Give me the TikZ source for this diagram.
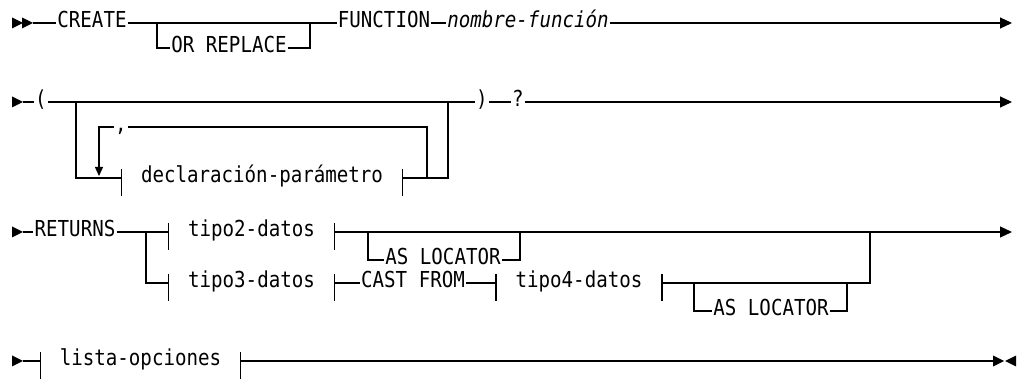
\documentclass[tikz,border=0pt]{standalone}
\usepackage{fontspec}
\newfontfamily\diagfont[FakeStretch=0.87]{DejaVu Sans Mono}
\usetikzlibrary{arrows.meta}

\begin{document}
\begin{tikzpicture}[
    x=1pt, y=-1pt,
    every node/.append style={font=\diagfont\fontsize{22}{25}\selectfont},
    rail/.style={line width=1.2pt},
    kw/.style={inner xsep=1pt, inner ysep=0pt, text height=16pt, text depth=6pt},
    nonterm/.style={kw, inner xsep=19.5pt},
    var/.style={kw, font=\diagfont\itshape\fontsize{22}{25}\selectfont},
    endarrow/.style={rail, -{Triangle[length=12pt,width=11pt]}},
    looparrow/.style={rail, -{Triangle[length=9pt,width=8pt]}},
    pics/headtri/.style={code={\fill (0,-5.5) -- (11,0) -- (0,5.5) -- cycle;}},
    pics/tailtri/.style={code={\fill (0,-5.5) -- (-11,0) -- (0,5.5) -- cycle;}},
]
\useasboundingbox (0,0) rectangle (1018,379);

% CREATE [OR REPLACE] FUNCTION
\pic at (12,23) {headtri};
\pic at (22,23) {headtri};
\coordinate (r1s) at (33,23);
\node[kw] (create) at (92,23) {CREATE};
\node[kw] (orrep) at (229,48) {OR REPLACE};
\node[kw] (function) at (384,23) {FUNCTION};
\node[var] (fname) at (528,23) {nombre-función};
\coordinate (b1) at (157,23);
\coordinate (j1) at (310,23);
\coordinate (r1e) at (1012,23);
\draw[rail] (r1s) -- (create) -- (function) -- (fname);
\draw[rail] (b1) |- (orrep) -| (j1);
\draw[endarrow] (fname) -- (r1e);

% lista de parametros
\pic at (12,102) {headtri};
\coordinate (r2s) at (23,102);
\node[kw] (lpar) at (41,102) {(};
\node[kw] (rpar) at (482,102) {)};
\node[kw] (qmark) at (518,102) {?};
\node[nonterm] (decl) at (262,178) {declaración-parámetro};
\node[kw] (comma) at (121,127) {,};
\coordinate (b2) at (76,102);
\coordinate (j2) at (448,102);
\coordinate (lpr) at (427,178);
\coordinate (lprt) at (427,127);
\coordinate (lplt) at (99,127);
\coordinate (lpld) at (99,176);
\coordinate (r2e) at (1012,102);
\draw[rail] (r2s) -- (lpar) -- (rpar) -- (qmark);
\draw[rail] (b2) |- (decl) -| (j2);
\draw[rail] (lpr) -- (lprt) -- (comma);
\draw[looparrow] (comma) -- (lplt) -- (lpld);
\draw[endarrow] (qmark) -- (r2e);

% RETURNS
\pic at (12,232) {headtri};
\coordinate (r3s) at (23,232);
\node[kw] (returns) at (75,232) {RETURNS};
\node[nonterm] (tipo2) at (251.5,232) {tipo2-datos};
\node[nonterm] (tipo3) at (251.5,283) {tipo3-datos};
\node[kw] (cast) at (413,283) {CAST FROM};
\node[nonterm] (tipo4) at (579,283) {tipo4-datos};
\node[kw] (asloc1) at (443,260) {AS LOCATOR};
\node[kw] (asloc2) at (771,311) {AS LOCATOR};
\coordinate (b3) at (146,232);
\coordinate (b4) at (368,232);
\coordinate (j4) at (520,232);
\coordinate (b5) at (694,283);
\coordinate (j5) at (847,283);
\coordinate (j6) at (870,232);
\coordinate (r3e) at (1012,232);
\draw[rail] (r3s) -- (returns) -- (tipo2);
\draw[endarrow] (tipo2) -- (r3e);
\draw[rail] (b3) |- (tipo3) -- (cast) -- (tipo4) -| (j6);
\draw[rail] (b4) |- (asloc1) -| (j4);
\draw[rail] (b5) |- (asloc2) -| (j5);

% opciones
\pic at (12,361) {headtri};
\coordinate (r4s) at (23,361);
\node[nonterm] (lista) at (140.5,361) {lista-opciones};
\coordinate (r4e) at (993,361);
\draw[rail] (r4s) -- (lista) -- (r4e);
\pic at (993,361) {headtri};
\pic at (1016,361) {tailtri};

\foreach \n in {decl,tipo2,tipo3,tipo4,lista}
  \draw[rail] ([yshift=9pt]\n.west) -- ([yshift=-18pt]\n.west)
              ([yshift=9pt]\n.east) -- ([yshift=-18pt]\n.east);
\end{tikzpicture}
\end{document}
